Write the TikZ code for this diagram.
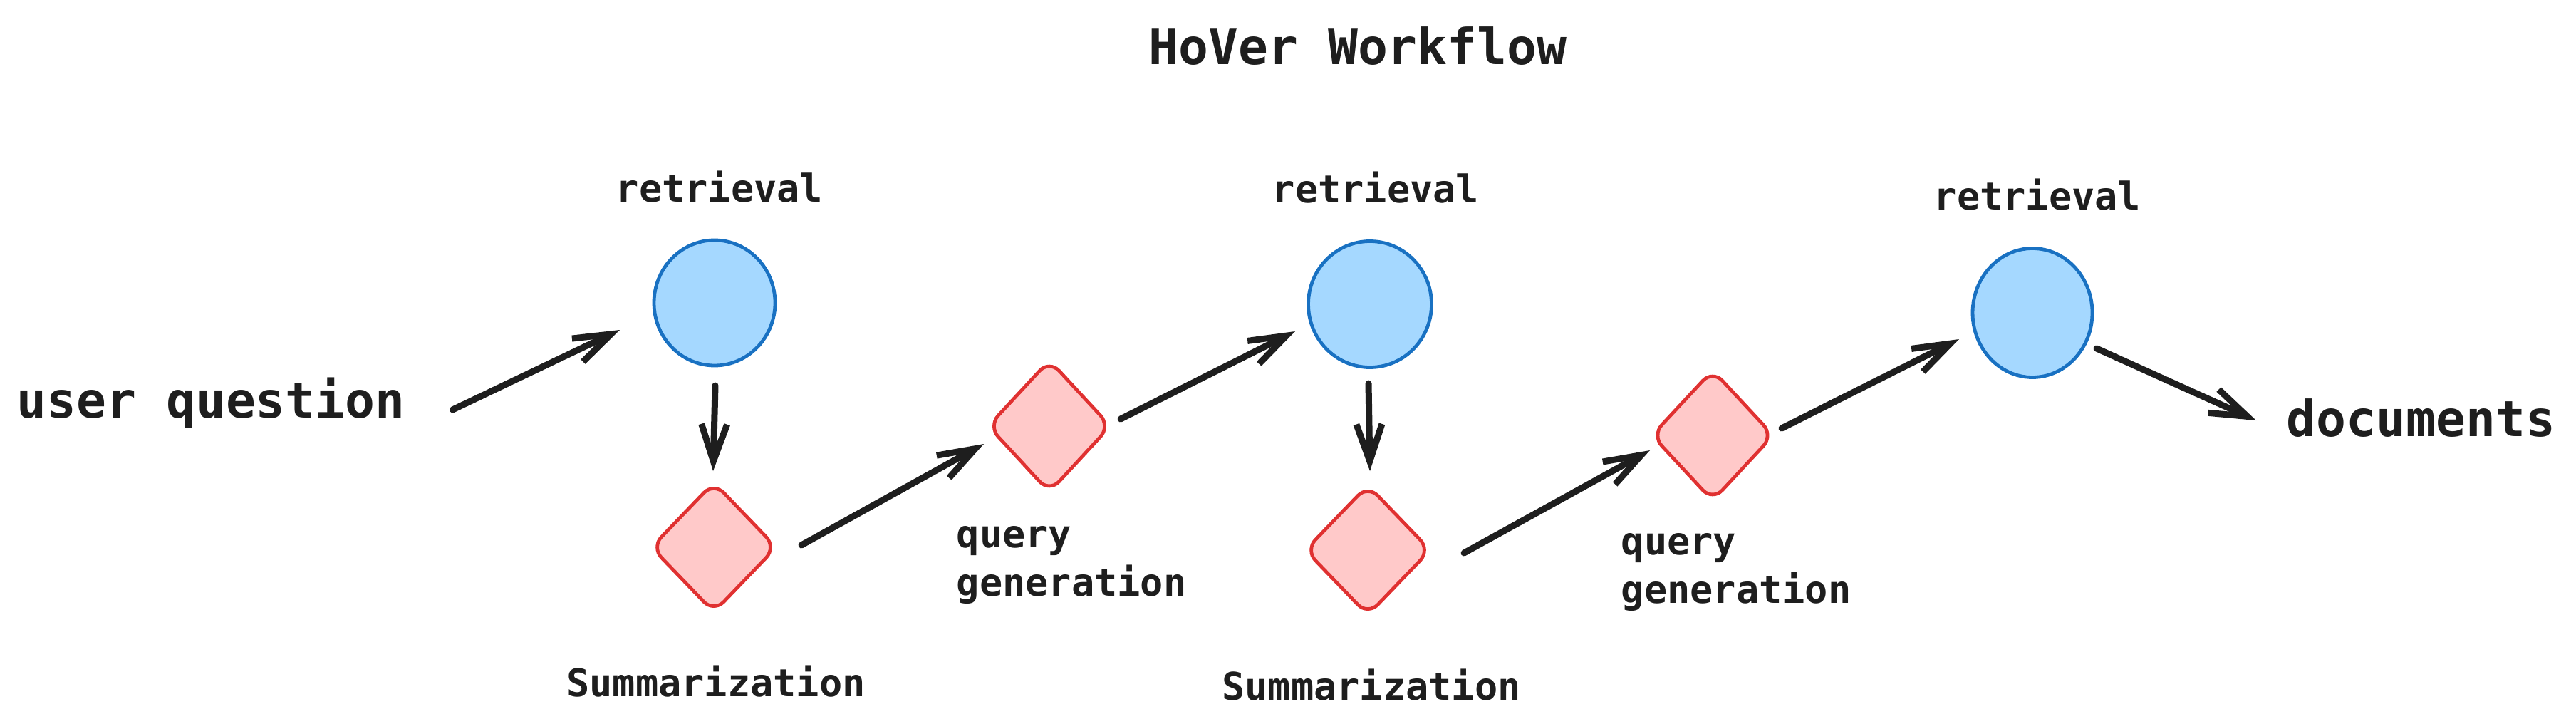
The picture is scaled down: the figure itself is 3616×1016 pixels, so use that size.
\documentclass[tikz,border=0pt]{standalone}
\usepackage{fontspec}
\setmonofont{DejaVu Sans Mono}
\usetikzlibrary{arrows.meta,shapes.geometric}
\definecolor{ink}{HTML}{1E1E1E}
\definecolor{cfill}{HTML}{A5D8FF}
\definecolor{cstroke}{HTML}{1971C2}
\definecolor{dfill}{HTML}{FFC9C9}
\definecolor{dstroke}{HTML}{E03131}
\begin{document}
\begin{tikzpicture}[x=0.25pt,y=-0.25pt,
  big/.style={font=\ttfamily\bfseries\fontsize{17.4}{21}\selectfont, text=ink, inner sep=0pt},
  small/.style={font=\ttfamily\bfseries\fontsize{13.4}{17}\selectfont, text=ink, inner sep=0pt},
  retr/.style={ellipse, draw=cstroke, fill=cfill, line width=1.2pt, inner sep=0pt},
  summ/.style={diamond, draw=dstroke, fill=dfill, line width=1.2pt, inner sep=0pt, rounded corners=5pt},
  arr/.style={draw=ink, line width=2.25pt, line cap=round, -{Straight Barb[length=13pt,width=9pt]}}]
\useasboundingbox (0,0) rectangle (3616,1016);

\node[big, anchor=base] (title) at (1906,91) {HoVer Workflow};
\node[big, anchor=base west] (uq) at (23,586) {user question};
\node[big, anchor=base west] (docs) at (3209,612) {documents};

\node[retr, minimum width=42.5pt, minimum height=44pt] (c1) at (1003,425) {};
\node[retr, minimum width=43.25pt, minimum height=44.25pt] (c2) at (1923,427) {};
\node[retr, minimum width=42pt, minimum height=45.25pt] (c3) at (2853,439) {};

\node[summ, minimum width=44.25pt, minimum height=46pt] (d1) at (1002,768) {};
\node[summ, minimum width=43.25pt, minimum height=46.75pt] (d2) at (1473,598) {};
\node[summ, minimum width=44.25pt, minimum height=46pt] (d3) at (1920,772) {};
\node[summ, minimum width=43pt, minimum height=46.25pt] (d4) at (2404,611) {};

\node[small, anchor=base] (r1) at (1010,283) {retrieval};
\node[small, anchor=base] (r2) at (1931,284) {retrieval};
\node[small, anchor=base] (r3) at (2860,295) {retrieval};
\node[small, anchor=base] (s1) at (1005,977) {Summarization};
\node[small, anchor=base] (s2) at (1925,982) {Summarization};
\node[small, anchor=base west, align=left] (q1) at (1342,836) {query\\generation};
\node[small, anchor=base west, align=left] (q2) at (2275,846) {query\\generation};

\draw[arr] ([shift={(66,-11)}]uq.base east) -- ([shift={(-133,38)}]c1.center);
\draw[arr] ([shift={(1,116)}]c1.center) -- ([shift={(-1,-107)}]d1.center);
\draw[arr] ([shift={(123,-3)}]d1.center) -- ([shift={(-92,25)}]d2.center);
\draw[arr] ([shift={(100,-10)}]d2.center) -- ([shift={(-105,38)}]c2.center);
\draw[arr] ([shift={(-2,111)}]c2.center) -- ([shift={(3,-111)}]d3.center);
\draw[arr] ([shift={(135,4)}]d3.center) -- ([shift={(-88,21)}]d4.center);
\draw[arr] ([shift={(97,-10)}]d4.center) -- ([shift={(-103,37)}]c3.center);
\draw[arr] ([shift={(90,50)}]c3.center) -- ([shift={(-42,-22)}]docs.base west);
\end{tikzpicture}
\end{document}
